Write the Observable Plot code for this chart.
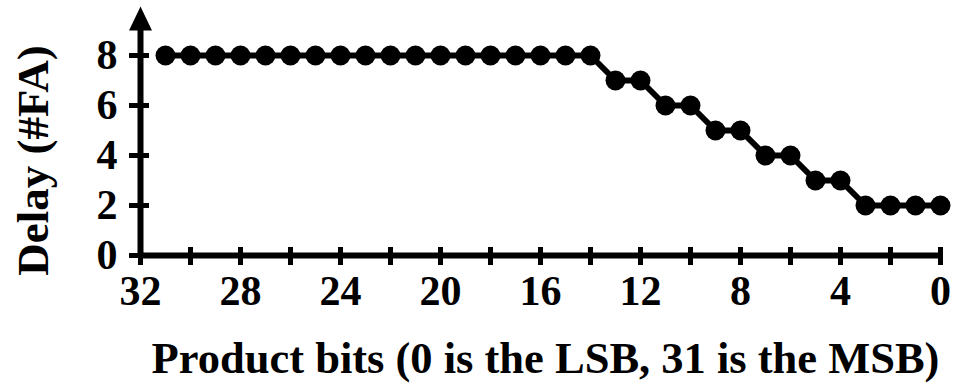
<!DOCTYPE html>
<html>
<head>
<meta charset="utf-8">
<script src="https://cdn.jsdelivr.net/npm/d3@7"></script>
<script src="https://cdn.jsdelivr.net/npm/@observablehq/plot@0.6"></script>
<style>
  html, body { margin: 0; padding: 0; background: #fff; }
  #chart svg { display: block; }
</style>
</head>
<body>
<div id="chart"></div>
<script>
// Data
const productBits = [31,30,29,28,27,26,25,24,23,22,21,20,19,18,17,16,15,14,13,12,11,10,9,8,7,6,5,4,3,2,1,0];
const delayFA     = [8,8,8,8,8,8,8,8,8,8,8,8,8,8,8,8,8,8,7,7,6,6,5,5,4,4,3,3,2,2,2,2];
const xTickLabels = [32,28,24,20,16,12,8,4,0];
const xTickMarks  = [32,30,28,26,24,22,20,18,16,14,12,10,8,6,4,2,0];
const yTickLabels = [0,2,4,6,8];
const xTitle = "Product bits (0 is the LSB, 31 is the MSB)";
const yTitle = "Delay (#FA)";
const yAxisTop = 9;   // where the y-axis arrow head sits
const xDomain = [32, 0];
const yDomain = [0, 10];

const data = productBits.map((b, i) => ({bit: b, delay: delayFA[i]}));

const arrowHead = {
  draw(ctx) {
    ctx.moveTo(0, -24);
    ctx.lineTo(11.5, 0);
    ctx.lineTo(-11.5, 0);
    ctx.closePath();
  }
};

const font = "'Liberation Serif', 'Times New Roman', Times, serif";

const chart = Plot.plot({
  width: 954,
  height: 385,
  marginLeft: 140,
  marginRight: 14,
  marginTop: 5,
  marginBottom: 130,
  style: {fontFamily: font, fontWeight: "bold", fontSize: "42px", color: "black", background: "white"},
  x: {domain: xDomain},
  y: {domain: yDomain},
  marks: [
    // x axis line and ticks
    Plot.ruleY([0], {stroke: "black", strokeWidth: 6}),
    Plot.ruleX(xTickMarks, {x: d => d, y1: () => 0, y2: () => 0, insetTop: -8, insetBottom: -10, stroke: "black", strokeWidth: 5}),
    // y axis line, ticks and arrow
    Plot.ruleX([{x: 32, y1: 0, y2: yAxisTop}], {x: "x", y1: "y1", y2: "y2", stroke: "black", strokeWidth: 6}),
    Plot.ruleY(yTickLabels, {y: d => d, x1: () => 32, x2: () => 32, insetLeft: -11, insetRight: -9, stroke: "black", strokeWidth: 5}),
    Plot.dot([{x: 32, y: yAxisTop}], {x: "x", y: "y", symbol: arrowHead, fill: "black"}),
    // tick labels
    Plot.axisX({ticks: xTickLabels, tickSize: 0, tickPadding: 20, tickFormat: d => String(d), fontSize: 42, fontWeight: "bold", fontFamily: font, fill: "black"}),
    Plot.axisY({ticks: yTickLabels, tickSize: 0, tickPadding: 23, tickFormat: d => String(d), fontSize: 42, fontWeight: "bold", fontFamily: font, fill: "black", label: null}),
    // data
    Plot.line(data, {x: "bit", y: "delay", stroke: "black", strokeWidth: 6}),
    Plot.dot(data, {x: "bit", y: "delay", r: 10, fill: "black"}),
    // titles
    Plot.text([xTitle], {text: d => d, frameAnchor: "bottom", textAnchor: "middle", lineAnchor: "bottom", dx: 5, dy: 117, fontSize: 44.5, fontWeight: "bold", fontFamily: font, fill: "black"}),
    Plot.text([yTitle], {text: d => d, frameAnchor: "left", textAnchor: "middle", lineAnchor: "middle", rotate: -90, dx: -107, dy: 30, fontSize: 45, fontWeight: "bold", fontFamily: font, fill: "black"})
  ]
});
document.getElementById("chart").appendChild(chart);
</script>
</body>
</html>
